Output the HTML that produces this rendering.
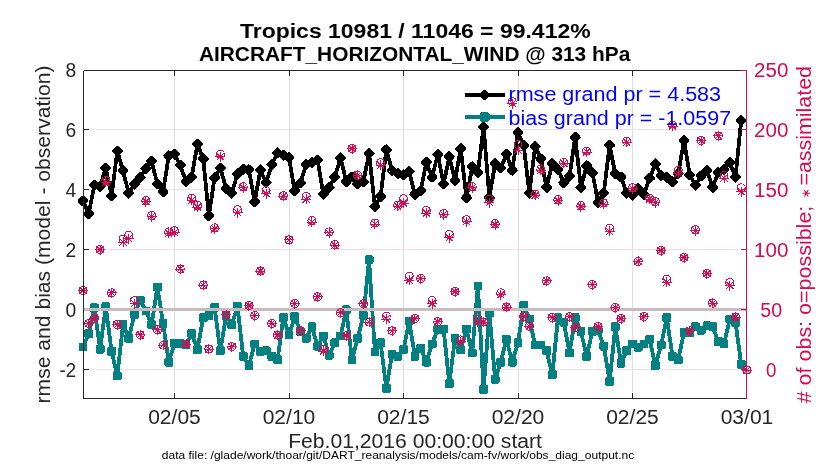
<!DOCTYPE html>
<html><head><meta charset="utf-8"><title>obs_diag</title>
<style>html,body{margin:0;padding:0;background:#fff}svg{display:block;will-change:transform}text{font-family:"Liberation Sans",sans-serif}</style></head><body>
<svg width="830" height="470" viewBox="0 0 830 470">
<rect width="830" height="470" fill="#fff"/>
<g shape-rendering="crispEdges" stroke-width="1">
<line x1="174.5" x2="174.5" y1="70.0" y2="398.0" stroke="#dedede"/>
<line x1="289.5" x2="289.5" y1="70.0" y2="398.0" stroke="#dedede"/>
<line x1="403.5" x2="403.5" y1="70.0" y2="398.0" stroke="#dedede"/>
<line x1="518.5" x2="518.5" y1="70.0" y2="398.0" stroke="#dedede"/>
<line x1="632.5" x2="632.5" y1="70.0" y2="398.0" stroke="#dedede"/>
<line x1="83.0" x2="746.0" y1="129.5" y2="129.5" stroke="#f9dae5"/>
<line x1="83.0" x2="746.0" y1="189.5" y2="189.5" stroke="#f9dae5"/>
<line x1="83.0" x2="746.0" y1="249.5" y2="249.5" stroke="#f9dae5"/>
<line x1="83.0" x2="746.0" y1="369.5" y2="369.5" stroke="#f9dae5"/>
</g>
<g shape-rendering="crispEdges">
<polyline points="83,201 88.7,213.6 94.4,185.1 100.1,186.3 105.8,168 111.6,195.8 117.3,151.2 123,170.8 128.7,193.1 134.5,184 140.2,177.6 145.9,168.5 151.6,161.2 157.4,184 163.1,191.9 168.8,155.8 174.5,154.2 180.3,165.2 186,181.7 191.7,177.1 197.4,144.1 203.2,158.9 208.9,215.8 214.6,177.6 220.3,168 226.1,188.5 231.8,193.1 237.5,173.7 243.2,169.2 248.9,169.9 254.7,201.7 260.4,169.9 266.1,182.8 271.8,164.6 277.6,152.8 283.3,155.2 289,157.8 294.7,190.8 300.5,182.8 306.2,164.6 311.9,162.4 317.6,160.1 323.4,194.2 329.1,187.4 334.8,177.1 340.5,157.8 346.3,181.7 352,177.1 357.7,184 363.4,181.7 369.1,153.3 374.9,206.7 380.6,196.5 386.3,149.8 392,170.3 397.8,173.7 403.5,174.9 409.2,171.5 414.9,194.2 420.7,190.8 426.4,162.4 432.1,177.1 437.8,154.4 443.6,184 449.3,156.7 455,180.6 460.7,148.7 466.5,197.6 472.2,166.9 477.9,172.6 483.6,127.1 489.4,197.6 495.1,163.5 500.8,168 506.5,154.4 512.2,170.3 518,132.8 523.7,145.3 529.4,193.1 535.1,146.4 540.9,158.9 546.6,187.4 552.3,163.5 558,169.2 563.8,182.8 569.5,176 575.2,137.3 580.9,187.4 586.7,165.8 592.4,172.6 598.1,202.2 603.8,193.1 609.6,145.3 615.3,173.7 621,177.1 626.7,193.1 632.5,195.4 638.2,188.5 643.9,194.2 649.6,178.3 655.4,163.9 661.1,175.3 666.8,177.1 672.5,181.7 678.2,173.7 684,140.7 689.7,174.9 695.4,185.1 701.1,176 706.9,170.3 712.6,187.4 718.3,172.6 724,169.2 729.8,162.4 735.5,177.1 741.2,120.7" fill="none" stroke="#000" stroke-width="3.8" stroke-linejoin="round"/>
<path d="M79.2,201 l3.7,-3.7 l3.7,3.7 l-3.7,3.7 z M85,213.6 l3.7,-3.7 l3.7,3.7 l-3.7,3.7 z M90.7,185.1 l3.7,-3.7 l3.7,3.7 l-3.7,3.7 z M96.4,186.3 l3.7,-3.7 l3.7,3.7 l-3.7,3.7 z M102.1,168 l3.7,-3.7 l3.7,3.7 l-3.7,3.7 z M107.9,195.8 l3.7,-3.7 l3.7,3.7 l-3.7,3.7 z M113.6,151.2 l3.7,-3.7 l3.7,3.7 l-3.7,3.7 z M119.3,170.8 l3.7,-3.7 l3.7,3.7 l-3.7,3.7 z M125,193.1 l3.7,-3.7 l3.7,3.7 l-3.7,3.7 z M130.8,184 l3.7,-3.7 l3.7,3.7 l-3.7,3.7 z M136.5,177.6 l3.7,-3.7 l3.7,3.7 l-3.7,3.7 z M142.2,168.5 l3.7,-3.7 l3.7,3.7 l-3.7,3.7 z M147.9,161.2 l3.7,-3.7 l3.7,3.7 l-3.7,3.7 z M153.7,184 l3.7,-3.7 l3.7,3.7 l-3.7,3.7 z M159.4,191.9 l3.7,-3.7 l3.7,3.7 l-3.7,3.7 z M165.1,155.8 l3.7,-3.7 l3.7,3.7 l-3.7,3.7 z M170.8,154.2 l3.7,-3.7 l3.7,3.7 l-3.7,3.7 z M176.6,165.2 l3.7,-3.7 l3.7,3.7 l-3.7,3.7 z M182.3,181.7 l3.7,-3.7 l3.7,3.7 l-3.7,3.7 z M188,177.1 l3.7,-3.7 l3.7,3.7 l-3.7,3.7 z M193.7,144.1 l3.7,-3.7 l3.7,3.7 l-3.7,3.7 z M199.5,158.9 l3.7,-3.7 l3.7,3.7 l-3.7,3.7 z M205.2,215.8 l3.7,-3.7 l3.7,3.7 l-3.7,3.7 z M210.9,177.6 l3.7,-3.7 l3.7,3.7 l-3.7,3.7 z M216.6,168 l3.7,-3.7 l3.7,3.7 l-3.7,3.7 z M222.4,188.5 l3.7,-3.7 l3.7,3.7 l-3.7,3.7 z M228.1,193.1 l3.7,-3.7 l3.7,3.7 l-3.7,3.7 z M233.8,173.7 l3.7,-3.7 l3.7,3.7 l-3.7,3.7 z M239.5,169.2 l3.7,-3.7 l3.7,3.7 l-3.7,3.7 z M245.2,169.9 l3.7,-3.7 l3.7,3.7 l-3.7,3.7 z M251,201.7 l3.7,-3.7 l3.7,3.7 l-3.7,3.7 z M256.7,169.9 l3.7,-3.7 l3.7,3.7 l-3.7,3.7 z M262.4,182.8 l3.7,-3.7 l3.7,3.7 l-3.7,3.7 z M268.1,164.6 l3.7,-3.7 l3.7,3.7 l-3.7,3.7 z M273.9,152.8 l3.7,-3.7 l3.7,3.7 l-3.7,3.7 z M279.6,155.2 l3.7,-3.7 l3.7,3.7 l-3.7,3.7 z M285.3,157.8 l3.7,-3.7 l3.7,3.7 l-3.7,3.7 z M291,190.8 l3.7,-3.7 l3.7,3.7 l-3.7,3.7 z M296.8,182.8 l3.7,-3.7 l3.7,3.7 l-3.7,3.7 z M302.5,164.6 l3.7,-3.7 l3.7,3.7 l-3.7,3.7 z M308.2,162.4 l3.7,-3.7 l3.7,3.7 l-3.7,3.7 z M313.9,160.1 l3.7,-3.7 l3.7,3.7 l-3.7,3.7 z M319.7,194.2 l3.7,-3.7 l3.7,3.7 l-3.7,3.7 z M325.4,187.4 l3.7,-3.7 l3.7,3.7 l-3.7,3.7 z M331.1,177.1 l3.7,-3.7 l3.7,3.7 l-3.7,3.7 z M336.8,157.8 l3.7,-3.7 l3.7,3.7 l-3.7,3.7 z M342.6,181.7 l3.7,-3.7 l3.7,3.7 l-3.7,3.7 z M348.3,177.1 l3.7,-3.7 l3.7,3.7 l-3.7,3.7 z M354,184 l3.7,-3.7 l3.7,3.7 l-3.7,3.7 z M359.7,181.7 l3.7,-3.7 l3.7,3.7 l-3.7,3.7 z M365.4,153.3 l3.7,-3.7 l3.7,3.7 l-3.7,3.7 z M371.2,206.7 l3.7,-3.7 l3.7,3.7 l-3.7,3.7 z M376.9,196.5 l3.7,-3.7 l3.7,3.7 l-3.7,3.7 z M382.6,149.8 l3.7,-3.7 l3.7,3.7 l-3.7,3.7 z M388.3,170.3 l3.7,-3.7 l3.7,3.7 l-3.7,3.7 z M394.1,173.7 l3.7,-3.7 l3.7,3.7 l-3.7,3.7 z M399.8,174.9 l3.7,-3.7 l3.7,3.7 l-3.7,3.7 z M405.5,171.5 l3.7,-3.7 l3.7,3.7 l-3.7,3.7 z M411.2,194.2 l3.7,-3.7 l3.7,3.7 l-3.7,3.7 z M417,190.8 l3.7,-3.7 l3.7,3.7 l-3.7,3.7 z M422.7,162.4 l3.7,-3.7 l3.7,3.7 l-3.7,3.7 z M428.4,177.1 l3.7,-3.7 l3.7,3.7 l-3.7,3.7 z M434.1,154.4 l3.7,-3.7 l3.7,3.7 l-3.7,3.7 z M439.9,184 l3.7,-3.7 l3.7,3.7 l-3.7,3.7 z M445.6,156.7 l3.7,-3.7 l3.7,3.7 l-3.7,3.7 z M451.3,180.6 l3.7,-3.7 l3.7,3.7 l-3.7,3.7 z M457,148.7 l3.7,-3.7 l3.7,3.7 l-3.7,3.7 z M462.8,197.6 l3.7,-3.7 l3.7,3.7 l-3.7,3.7 z M468.5,166.9 l3.7,-3.7 l3.7,3.7 l-3.7,3.7 z M474.2,172.6 l3.7,-3.7 l3.7,3.7 l-3.7,3.7 z M479.9,127.1 l3.7,-3.7 l3.7,3.7 l-3.7,3.7 z M485.7,197.6 l3.7,-3.7 l3.7,3.7 l-3.7,3.7 z M491.4,163.5 l3.7,-3.7 l3.7,3.7 l-3.7,3.7 z M497.1,168 l3.7,-3.7 l3.7,3.7 l-3.7,3.7 z M502.8,154.4 l3.7,-3.7 l3.7,3.7 l-3.7,3.7 z M508.6,170.3 l3.7,-3.7 l3.7,3.7 l-3.7,3.7 z M514.3,132.8 l3.7,-3.7 l3.7,3.7 l-3.7,3.7 z M520,145.3 l3.7,-3.7 l3.7,3.7 l-3.7,3.7 z M525.7,193.1 l3.7,-3.7 l3.7,3.7 l-3.7,3.7 z M531.4,146.4 l3.7,-3.7 l3.7,3.7 l-3.7,3.7 z M537.2,158.9 l3.7,-3.7 l3.7,3.7 l-3.7,3.7 z M542.9,187.4 l3.7,-3.7 l3.7,3.7 l-3.7,3.7 z M548.6,163.5 l3.7,-3.7 l3.7,3.7 l-3.7,3.7 z M554.3,169.2 l3.7,-3.7 l3.7,3.7 l-3.7,3.7 z M560.1,182.8 l3.7,-3.7 l3.7,3.7 l-3.7,3.7 z M565.8,176 l3.7,-3.7 l3.7,3.7 l-3.7,3.7 z M571.5,137.3 l3.7,-3.7 l3.7,3.7 l-3.7,3.7 z M577.2,187.4 l3.7,-3.7 l3.7,3.7 l-3.7,3.7 z M583,165.8 l3.7,-3.7 l3.7,3.7 l-3.7,3.7 z M588.7,172.6 l3.7,-3.7 l3.7,3.7 l-3.7,3.7 z M594.4,202.2 l3.7,-3.7 l3.7,3.7 l-3.7,3.7 z M600.1,193.1 l3.7,-3.7 l3.7,3.7 l-3.7,3.7 z M605.9,145.3 l3.7,-3.7 l3.7,3.7 l-3.7,3.7 z M611.6,173.7 l3.7,-3.7 l3.7,3.7 l-3.7,3.7 z M617.3,177.1 l3.7,-3.7 l3.7,3.7 l-3.7,3.7 z M623,193.1 l3.7,-3.7 l3.7,3.7 l-3.7,3.7 z M628.8,195.4 l3.7,-3.7 l3.7,3.7 l-3.7,3.7 z M634.5,188.5 l3.7,-3.7 l3.7,3.7 l-3.7,3.7 z M640.2,194.2 l3.7,-3.7 l3.7,3.7 l-3.7,3.7 z M645.9,178.3 l3.7,-3.7 l3.7,3.7 l-3.7,3.7 z M651.6,163.9 l3.7,-3.7 l3.7,3.7 l-3.7,3.7 z M657.4,175.3 l3.7,-3.7 l3.7,3.7 l-3.7,3.7 z M663.1,177.1 l3.7,-3.7 l3.7,3.7 l-3.7,3.7 z M668.8,181.7 l3.7,-3.7 l3.7,3.7 l-3.7,3.7 z M674.5,173.7 l3.7,-3.7 l3.7,3.7 l-3.7,3.7 z M680.3,140.7 l3.7,-3.7 l3.7,3.7 l-3.7,3.7 z M686,174.9 l3.7,-3.7 l3.7,3.7 l-3.7,3.7 z M691.7,185.1 l3.7,-3.7 l3.7,3.7 l-3.7,3.7 z M697.4,176 l3.7,-3.7 l3.7,3.7 l-3.7,3.7 z M703.2,170.3 l3.7,-3.7 l3.7,3.7 l-3.7,3.7 z M708.9,187.4 l3.7,-3.7 l3.7,3.7 l-3.7,3.7 z M714.6,172.6 l3.7,-3.7 l3.7,3.7 l-3.7,3.7 z M720.3,169.2 l3.7,-3.7 l3.7,3.7 l-3.7,3.7 z M726.1,162.4 l3.7,-3.7 l3.7,3.7 l-3.7,3.7 z M731.8,177.1 l3.7,-3.7 l3.7,3.7 l-3.7,3.7 z M737.5,120.7 l3.7,-3.7 l3.7,3.7 l-3.7,3.7 z" fill="#000" stroke="#000" stroke-width="3.4" stroke-linejoin="round"/>
<polyline points="83,346.9 88.7,333.7 94.4,307.8 100.1,349.1 105.8,306.6 111.6,351.4 117.3,375.8 123,324.6 128.7,338.2 134.5,314.3 140.2,300 145.9,310.9 151.6,324.6 157.4,287 163.1,323.4 168.8,362.1 174.5,343.2 180.3,343.2 186,344.6 191.7,333.7 197.4,349.6 203.2,317.7 208.9,315.5 214.6,307.5 220.3,350.7 226.1,315.5 231.8,324.6 237.5,306.4 243.2,356.4 248.9,365.5 254.7,343.9 260.4,351.4 266.1,350.7 271.8,356.4 277.6,359.8 283.3,317.7 289,334.8 294.7,316.6 300.5,331.4 306.2,338.2 311.9,326.8 317.6,346.2 323.4,335.9 329.1,355.3 334.8,342.8 340.5,335.9 346.3,309.8 352,359.8 357.7,338.2 363.4,315.5 369.1,259.7 374.9,351.9 380.6,342.8 386.3,388.3 392,354.2 397.8,356.4 403.5,349.6 409.2,321.2 414.9,356.4 420.7,348.5 426.4,362.1 432.1,343.9 437.8,329.1 443.6,329.1 449.3,383.7 455,338.2 460.7,349.6 466.5,329.1 472.2,353 477.9,285.9 483.6,389.4 489.4,313.2 495.1,379.2 500.8,362.1 506.5,339.4 512.2,362.1 518,342.8 523.7,305.2 529.4,318.9 535.1,345 540.9,345 546.6,350.7 552.3,374.6 558,317.7 563.8,322.3 569.5,353 575.2,317.7 580.9,331.4 586.7,356.4 592.4,331.4 598.1,330.3 603.8,346.2 609.6,381.5 615.3,326.8 621,363.3 626.7,350.7 632.5,343.9 638.2,347.3 643.9,343.9 649.6,339.4 655.4,365.5 661.1,345 666.8,317.7 672.5,356.4 678.2,359.8 684,332.5 689.7,332.5 695.4,326.8 701.1,330.3 706.9,325.7 712.6,326.8 718.3,341.6 724,343.9 729.8,318.9 735.5,322.3 741.2,364.4" fill="none" stroke="#008080" stroke-width="3.8" stroke-linejoin="round"/>
<path d="M80.2,344.2 h5.4 v5.4 h-5.4 z M86,331 h5.4 v5.4 h-5.4 z M91.7,305.1 h5.4 v5.4 h-5.4 z M97.4,346.4 h5.4 v5.4 h-5.4 z M103.1,303.9 h5.4 v5.4 h-5.4 z M108.9,348.7 h5.4 v5.4 h-5.4 z M114.6,373.1 h5.4 v5.4 h-5.4 z M120.3,321.9 h5.4 v5.4 h-5.4 z M126,335.5 h5.4 v5.4 h-5.4 z M131.8,311.6 h5.4 v5.4 h-5.4 z M137.5,297.3 h5.4 v5.4 h-5.4 z M143.2,308.2 h5.4 v5.4 h-5.4 z M148.9,321.9 h5.4 v5.4 h-5.4 z M154.7,284.3 h5.4 v5.4 h-5.4 z M160.4,320.7 h5.4 v5.4 h-5.4 z M166.1,359.4 h5.4 v5.4 h-5.4 z M171.8,340.5 h5.4 v5.4 h-5.4 z M177.6,340.5 h5.4 v5.4 h-5.4 z M183.3,341.9 h5.4 v5.4 h-5.4 z M189,331 h5.4 v5.4 h-5.4 z M194.7,346.9 h5.4 v5.4 h-5.4 z M200.5,315 h5.4 v5.4 h-5.4 z M206.2,312.8 h5.4 v5.4 h-5.4 z M211.9,304.8 h5.4 v5.4 h-5.4 z M217.6,348 h5.4 v5.4 h-5.4 z M223.4,312.8 h5.4 v5.4 h-5.4 z M229.1,321.9 h5.4 v5.4 h-5.4 z M234.8,303.7 h5.4 v5.4 h-5.4 z M240.5,353.7 h5.4 v5.4 h-5.4 z M246.2,362.8 h5.4 v5.4 h-5.4 z M252,341.2 h5.4 v5.4 h-5.4 z M257.7,348.7 h5.4 v5.4 h-5.4 z M263.4,348 h5.4 v5.4 h-5.4 z M269.1,353.7 h5.4 v5.4 h-5.4 z M274.9,357.1 h5.4 v5.4 h-5.4 z M280.6,315 h5.4 v5.4 h-5.4 z M286.3,332.1 h5.4 v5.4 h-5.4 z M292,313.9 h5.4 v5.4 h-5.4 z M297.8,328.7 h5.4 v5.4 h-5.4 z M303.5,335.5 h5.4 v5.4 h-5.4 z M309.2,324.1 h5.4 v5.4 h-5.4 z M314.9,343.5 h5.4 v5.4 h-5.4 z M320.7,333.2 h5.4 v5.4 h-5.4 z M326.4,352.6 h5.4 v5.4 h-5.4 z M332.1,340.1 h5.4 v5.4 h-5.4 z M337.8,333.2 h5.4 v5.4 h-5.4 z M343.6,307.1 h5.4 v5.4 h-5.4 z M349.3,357.1 h5.4 v5.4 h-5.4 z M355,335.5 h5.4 v5.4 h-5.4 z M360.7,312.8 h5.4 v5.4 h-5.4 z M366.4,257 h5.4 v5.4 h-5.4 z M372.2,349.2 h5.4 v5.4 h-5.4 z M377.9,340.1 h5.4 v5.4 h-5.4 z M383.6,385.6 h5.4 v5.4 h-5.4 z M389.3,351.5 h5.4 v5.4 h-5.4 z M395.1,353.7 h5.4 v5.4 h-5.4 z M400.8,346.9 h5.4 v5.4 h-5.4 z M406.5,318.5 h5.4 v5.4 h-5.4 z M412.2,353.7 h5.4 v5.4 h-5.4 z M418,345.8 h5.4 v5.4 h-5.4 z M423.7,359.4 h5.4 v5.4 h-5.4 z M429.4,341.2 h5.4 v5.4 h-5.4 z M435.1,326.4 h5.4 v5.4 h-5.4 z M440.9,326.4 h5.4 v5.4 h-5.4 z M446.6,381 h5.4 v5.4 h-5.4 z M452.3,335.5 h5.4 v5.4 h-5.4 z M458,346.9 h5.4 v5.4 h-5.4 z M463.8,326.4 h5.4 v5.4 h-5.4 z M469.5,350.3 h5.4 v5.4 h-5.4 z M475.2,283.2 h5.4 v5.4 h-5.4 z M480.9,386.7 h5.4 v5.4 h-5.4 z M486.7,310.5 h5.4 v5.4 h-5.4 z M492.4,376.5 h5.4 v5.4 h-5.4 z M498.1,359.4 h5.4 v5.4 h-5.4 z M503.8,336.7 h5.4 v5.4 h-5.4 z M509.6,359.4 h5.4 v5.4 h-5.4 z M515.3,340.1 h5.4 v5.4 h-5.4 z M521,302.5 h5.4 v5.4 h-5.4 z M526.7,316.2 h5.4 v5.4 h-5.4 z M532.4,342.3 h5.4 v5.4 h-5.4 z M538.2,342.3 h5.4 v5.4 h-5.4 z M543.9,348 h5.4 v5.4 h-5.4 z M549.6,371.9 h5.4 v5.4 h-5.4 z M555.3,315 h5.4 v5.4 h-5.4 z M561.1,319.6 h5.4 v5.4 h-5.4 z M566.8,350.3 h5.4 v5.4 h-5.4 z M572.5,315 h5.4 v5.4 h-5.4 z M578.2,328.7 h5.4 v5.4 h-5.4 z M584,353.7 h5.4 v5.4 h-5.4 z M589.7,328.7 h5.4 v5.4 h-5.4 z M595.4,327.6 h5.4 v5.4 h-5.4 z M601.1,343.5 h5.4 v5.4 h-5.4 z M606.9,378.8 h5.4 v5.4 h-5.4 z M612.6,324.1 h5.4 v5.4 h-5.4 z M618.3,360.6 h5.4 v5.4 h-5.4 z M624,348 h5.4 v5.4 h-5.4 z M629.8,341.2 h5.4 v5.4 h-5.4 z M635.5,344.6 h5.4 v5.4 h-5.4 z M641.2,341.2 h5.4 v5.4 h-5.4 z M646.9,336.7 h5.4 v5.4 h-5.4 z M652.6,362.8 h5.4 v5.4 h-5.4 z M658.4,342.3 h5.4 v5.4 h-5.4 z M664.1,315 h5.4 v5.4 h-5.4 z M669.8,353.7 h5.4 v5.4 h-5.4 z M675.5,357.1 h5.4 v5.4 h-5.4 z M681.3,329.8 h5.4 v5.4 h-5.4 z M687,329.8 h5.4 v5.4 h-5.4 z M692.7,324.1 h5.4 v5.4 h-5.4 z M698.4,327.6 h5.4 v5.4 h-5.4 z M704.2,323 h5.4 v5.4 h-5.4 z M709.9,324.1 h5.4 v5.4 h-5.4 z M715.6,338.9 h5.4 v5.4 h-5.4 z M721.3,341.2 h5.4 v5.4 h-5.4 z M727.1,316.2 h5.4 v5.4 h-5.4 z M732.8,319.6 h5.4 v5.4 h-5.4 z M738.5,361.7 h5.4 v5.4 h-5.4 z" fill="#008080" stroke="#008080" stroke-width="3.4" stroke-linejoin="round"/>
<line x1="83.0" x2="746.0" y1="309.5" y2="309.5" stroke="#c8babd" stroke-width="3"/>
</g>
<g stroke="#D70A53" stroke-width="1" fill="none" shape-rendering="crispEdges">
<circle cx="83" cy="290.5" r="4.0"/><circle cx="88.7" cy="323.5" r="4.0"/><circle cx="94.4" cy="318.3" r="4.0"/><circle cx="100.1" cy="249.6" r="4.0"/><circle cx="105.8" cy="180.3" r="4.0"/><circle cx="111.6" cy="292.8" r="4.0"/><circle cx="117.3" cy="324.6" r="4.0"/><circle cx="123" cy="239.1" r="4.0"/><circle cx="128.7" cy="235.3" r="4.0"/><circle cx="134.5" cy="300.5" r="4.0"/><circle cx="140.2" cy="334.9" r="4.0"/><circle cx="145.9" cy="200.5" r="4.0"/><circle cx="151.6" cy="215.5" r="4.0"/><circle cx="157.4" cy="329.7" r="4.0"/><circle cx="163.1" cy="345.1" r="4.0"/><circle cx="168.8" cy="231.9" r="4.0"/><circle cx="174.5" cy="230.7" r="4.0"/><circle cx="180.3" cy="269" r="4.0"/><circle cx="186" cy="344" r="4.0"/><circle cx="191.7" cy="198.3" r="4.0"/><circle cx="197.4" cy="205.3" r="4.0"/><circle cx="203.2" cy="285" r="4.0"/><circle cx="208.9" cy="349" r="4.0"/><circle cx="214.6" cy="227.8" r="4.0"/><circle cx="220.3" cy="154.1" r="4.0"/><circle cx="226.1" cy="314.9" r="4.0"/><circle cx="231.8" cy="346.7" r="4.0"/><circle cx="237.5" cy="209.6" r="4.0"/><circle cx="243.2" cy="186.7" r="4.0"/><circle cx="248.9" cy="305.5" r="4.0"/><circle cx="254.7" cy="315.5" r="4.0"/><circle cx="260.4" cy="271" r="4.0"/><circle cx="266.1" cy="190.7" r="4.0"/><circle cx="271.8" cy="323.5" r="4.0"/><circle cx="277.6" cy="334.9" r="4.0"/><circle cx="283.3" cy="195.7" r="4.0"/><circle cx="289" cy="239.9" r="4.0"/><circle cx="294.7" cy="303.5" r="4.0"/><circle cx="300.5" cy="330.8" r="4.0"/><circle cx="306.2" cy="196.4" r="4.0"/><circle cx="311.9" cy="220.7" r="4.0"/><circle cx="317.6" cy="296.7" r="4.0"/><circle cx="323.4" cy="349" r="4.0"/><circle cx="329.1" cy="231.9" r="4.0"/><circle cx="334.8" cy="244.4" r="4.0"/><circle cx="340.5" cy="312.6" r="4.0"/><circle cx="346.3" cy="335.8" r="4.0"/><circle cx="352" cy="148.7" r="4.0"/><circle cx="357.7" cy="175.3" r="4.0"/><circle cx="363.4" cy="303.8" r="4.0"/><circle cx="369.1" cy="322.1" r="4.0"/><circle cx="374.9" cy="223" r="4.0"/><circle cx="380.6" cy="162.7" r="4.0"/><circle cx="386.3" cy="316" r="4.0"/><circle cx="392" cy="330.8" r="4.0"/><circle cx="397.8" cy="205.2" r="4.0"/><circle cx="403.5" cy="198.7" r="4.0"/><circle cx="409.2" cy="276.2" r="4.0"/><circle cx="414.9" cy="318.7" r="4.0"/><circle cx="420.7" cy="278.5" r="4.0"/><circle cx="426.4" cy="210.5" r="4.0"/><circle cx="432.1" cy="300.5" r="4.0"/><circle cx="437.8" cy="321.7" r="4.0"/><circle cx="443.6" cy="213.5" r="4.0"/><circle cx="449.3" cy="234.6" r="4.0"/><circle cx="455" cy="291.7" r="4.0"/><circle cx="460.7" cy="339.9" r="4.0"/><circle cx="466.5" cy="219.5" r="4.0"/><circle cx="472.2" cy="186.7" r="4.0"/><circle cx="477.9" cy="319" r="4.0"/><circle cx="483.6" cy="322.1" r="4.0"/><circle cx="489.4" cy="199.5" r="4.0"/><circle cx="495.1" cy="223.5" r="4.0"/><circle cx="500.8" cy="292.8" r="4.0"/><circle cx="506.5" cy="307" r="4.0"/><circle cx="512.2" cy="101.5" r="4.0"/><circle cx="518" cy="144.6" r="4.0"/><circle cx="523.7" cy="316.7" r="4.0"/><circle cx="529.4" cy="326.2" r="4.0"/><circle cx="535.1" cy="194.2" r="4.0"/><circle cx="540.9" cy="169.2" r="4.0"/><circle cx="546.6" cy="280.8" r="4.0"/><circle cx="552.3" cy="317.6" r="4.0"/><circle cx="558" cy="199.5" r="4.0"/><circle cx="563.8" cy="162.3" r="4.0"/><circle cx="569.5" cy="316.7" r="4.0"/><circle cx="575.2" cy="327.4" r="4.0"/><circle cx="580.9" cy="205.6" r="4.0"/><circle cx="586.7" cy="151" r="4.0"/><circle cx="592.4" cy="284.5" r="4.0"/><circle cx="598.1" cy="326.7" r="4.0"/><circle cx="603.8" cy="203" r="4.0"/><circle cx="609.6" cy="228.4" r="4.0"/><circle cx="615.3" cy="307.5" r="4.0"/><circle cx="621" cy="318.7" r="4.0"/><circle cx="626.7" cy="141.2" r="4.0"/><circle cx="632.5" cy="187.8" r="4.0"/><circle cx="638.2" cy="261.4" r="4.0"/><circle cx="643.9" cy="316.7" r="4.0"/><circle cx="649.6" cy="198.1" r="4.0"/><circle cx="655.4" cy="201.5" r="4.0"/><circle cx="661.1" cy="250.5" r="4.0"/><circle cx="666.8" cy="279.2" r="4.0"/><circle cx="672.5" cy="125.2" r="4.0"/><circle cx="678.2" cy="170.3" r="4.0"/><circle cx="684" cy="257.6" r="4.0"/><circle cx="689.7" cy="330.8" r="4.0"/><circle cx="695.4" cy="229.6" r="4.0"/><circle cx="701.1" cy="140.7" r="4.0"/><circle cx="706.9" cy="273.5" r="4.0"/><circle cx="712.6" cy="303.2" r="4.0"/><circle cx="718.3" cy="135.9" r="4.0"/><circle cx="724" cy="175.3" r="4.0"/><circle cx="729.8" cy="282.5" r="4.0"/><circle cx="735.5" cy="317.1" r="4.0"/><circle cx="741.2" cy="187.8" r="4.0"/><circle cx="746.9" cy="370" r="4.0"/>
<path d="M78,290.5 h10 M83,285.5 v10 M79.5,287 l7,7 M79.5,294 l7,-7 M83.7,323.5 h10 M88.7,318.5 v10 M85.2,320 l7,7 M85.2,327 l7,-7 M89.4,318.3 h10 M94.4,313.3 v10 M90.9,314.8 l7,7 M90.9,321.8 l7,-7 M95.1,249.6 h10 M100.1,244.6 v10 M96.6,246.1 l7,7 M96.6,253.1 l7,-7 M100.8,182.3 h10 M105.8,177.3 v10 M102.3,178.8 l7,7 M102.3,185.8 l7,-7 M106.6,292.8 h10 M111.6,287.8 v10 M108.1,289.3 l7,7 M108.1,296.3 l7,-7 M112.3,324.6 h10 M117.3,319.6 v10 M113.8,321.1 l7,7 M113.8,328.1 l7,-7 M118,242.1 h10 M123,237.1 v10 M119.5,238.6 l7,7 M119.5,245.6 l7,-7 M123.7,238.5 h10 M128.7,233.5 v10 M125.2,235 l7,7 M125.2,242 l7,-7 M129.5,303.5 h10 M134.5,298.5 v10 M131,300 l7,7 M131,307 l7,-7 M135.2,334.9 h10 M140.2,329.9 v10 M136.7,331.4 l7,7 M136.7,338.4 l7,-7 M140.9,201.5 h10 M145.9,196.5 v10 M142.4,198 l7,7 M142.4,205 l7,-7 M146.6,216.5 h10 M151.6,211.5 v10 M148.1,213 l7,7 M148.1,220 l7,-7 M152.4,329.7 h10 M157.4,324.7 v10 M153.9,326.2 l7,7 M153.9,333.2 l7,-7 M158.1,345.1 h10 M163.1,340.1 v10 M159.6,341.6 l7,7 M159.6,348.6 l7,-7 M163.8,233.2 h10 M168.8,228.2 v10 M165.3,229.7 l7,7 M165.3,236.7 l7,-7 M169.5,232.3 h10 M174.5,227.3 v10 M171,228.8 l7,7 M171,235.8 l7,-7 M175.3,269 h10 M180.3,264 v10 M176.8,265.5 l7,7 M176.8,272.5 l7,-7 M181,344 h10 M186,339 v10 M182.5,340.5 l7,7 M182.5,347.5 l7,-7 M186.7,200.1 h10 M191.7,195.1 v10 M188.2,196.6 l7,7 M188.2,203.6 l7,-7 M192.4,207.1 h10 M197.4,202.1 v10 M193.9,203.6 l7,7 M193.9,210.6 l7,-7 M198.2,285 h10 M203.2,280 v10 M199.7,281.5 l7,7 M199.7,288.5 l7,-7 M203.9,349 h10 M208.9,344 v10 M205.4,345.5 l7,7 M205.4,352.5 l7,-7 M209.6,228.8 h10 M214.6,223.8 v10 M211.1,225.3 l7,7 M211.1,232.3 l7,-7 M215.3,156.6 h10 M220.3,151.6 v10 M216.8,153.1 l7,7 M216.8,160.1 l7,-7 M221.1,314.9 h10 M226.1,309.9 v10 M222.6,311.4 l7,7 M222.6,318.4 l7,-7 M226.8,346.7 h10 M231.8,341.7 v10 M228.3,343.2 l7,7 M228.3,350.2 l7,-7 M232.5,212.6 h10 M237.5,207.6 v10 M234,209.1 l7,7 M234,216.1 l7,-7 M238.2,187.7 h10 M243.2,182.7 v10 M239.7,184.2 l7,7 M239.7,191.2 l7,-7 M243.9,305.5 h10 M248.9,300.5 v10 M245.4,302 l7,7 M245.4,309 l7,-7 M249.7,315.5 h10 M254.7,310.5 v10 M251.2,312 l7,7 M251.2,319 l7,-7 M255.4,271 h10 M260.4,266 v10 M256.9,267.5 l7,7 M256.9,274.5 l7,-7 M261.1,193.7 h10 M266.1,188.7 v10 M262.6,190.2 l7,7 M262.6,197.2 l7,-7 M266.8,323.5 h10 M271.8,318.5 v10 M268.3,320 l7,7 M268.3,327 l7,-7 M272.6,334.9 h10 M277.6,329.9 v10 M274.1,331.4 l7,7 M274.1,338.4 l7,-7 M278.3,196.1 h10 M283.3,191.1 v10 M279.8,192.6 l7,7 M279.8,199.6 l7,-7 M284,239.9 h10 M289,234.9 v10 M285.5,236.4 l7,7 M285.5,243.4 l7,-7 M289.7,303.5 h10 M294.7,298.5 v10 M291.2,300 l7,7 M291.2,307 l7,-7 M295.5,330.8 h10 M300.5,325.8 v10 M297,327.3 l7,7 M297,334.3 l7,-7 M301.2,199.4 h10 M306.2,194.4 v10 M302.7,195.9 l7,7 M302.7,202.9 l7,-7 M306.9,222 h10 M311.9,217 v10 M308.4,218.5 l7,7 M308.4,225.5 l7,-7 M312.6,296.7 h10 M317.6,291.7 v10 M314.1,293.2 l7,7 M314.1,300.2 l7,-7 M318.4,351 h10 M323.4,346 v10 M319.9,347.5 l7,7 M319.9,354.5 l7,-7 M324.1,232.9 h10 M329.1,227.9 v10 M325.6,229.4 l7,7 M325.6,236.4 l7,-7 M329.8,245.4 h10 M334.8,240.4 v10 M331.3,241.9 l7,7 M331.3,248.9 l7,-7 M335.5,312.6 h10 M340.5,307.6 v10 M337,309.1 l7,7 M337,316.1 l7,-7 M341.3,335.8 h10 M346.3,330.8 v10 M342.8,332.3 l7,7 M342.8,339.3 l7,-7 M347,148.7 h10 M352,143.7 v10 M348.5,145.2 l7,7 M348.5,152.2 l7,-7 M352.7,175.3 h10 M357.7,170.3 v10 M354.2,171.8 l7,7 M354.2,178.8 l7,-7 M358.4,303.8 h10 M363.4,298.8 v10 M359.9,300.3 l7,7 M359.9,307.3 l7,-7 M364.1,322.1 h10 M369.1,317.1 v10 M365.6,318.6 l7,7 M365.6,325.6 l7,-7 M369.9,224 h10 M374.9,219 v10 M371.4,220.5 l7,7 M371.4,227.5 l7,-7 M375.6,165.2 h10 M380.6,160.2 v10 M377.1,161.7 l7,7 M377.1,168.7 l7,-7 M381.3,319 h10 M386.3,314 v10 M382.8,315.5 l7,7 M382.8,322.5 l7,-7 M387,330.8 h10 M392,325.8 v10 M388.5,327.3 l7,7 M388.5,334.3 l7,-7 M392.8,206.2 h10 M397.8,201.2 v10 M394.3,202.7 l7,7 M394.3,209.7 l7,-7 M398.5,203.2 h10 M403.5,198.2 v10 M400,199.7 l7,7 M400,206.7 l7,-7 M404.2,280.2 h10 M409.2,275.2 v10 M405.7,276.7 l7,7 M405.7,283.7 l7,-7 M409.9,318.7 h10 M414.9,313.7 v10 M411.4,315.2 l7,7 M411.4,322.2 l7,-7 M415.7,278.5 h10 M420.7,273.5 v10 M417.2,275 l7,7 M417.2,282 l7,-7 M421.4,213 h10 M426.4,208 v10 M422.9,209.5 l7,7 M422.9,216.5 l7,-7 M427.1,303.5 h10 M432.1,298.5 v10 M428.6,300 l7,7 M428.6,307 l7,-7 M432.8,321.7 h10 M437.8,316.7 v10 M434.3,318.2 l7,7 M434.3,325.2 l7,-7 M438.6,214.5 h10 M443.6,209.5 v10 M440.1,211 l7,7 M440.1,218 l7,-7 M444.3,237.6 h10 M449.3,232.6 v10 M445.8,234.1 l7,7 M445.8,241.1 l7,-7 M450,291.7 h10 M455,286.7 v10 M451.5,288.2 l7,7 M451.5,295.2 l7,-7 M455.7,341.9 h10 M460.7,336.9 v10 M457.2,338.4 l7,7 M457.2,345.4 l7,-7 M461.5,221.5 h10 M466.5,216.5 v10 M463,218 l7,7 M463,225 l7,-7 M467.2,187.7 h10 M472.2,182.7 v10 M468.7,184.2 l7,7 M468.7,191.2 l7,-7 M472.9,322 h10 M477.9,317 v10 M474.4,318.5 l7,7 M474.4,325.5 l7,-7 M478.6,322.1 h10 M483.6,317.1 v10 M480.1,318.6 l7,7 M480.1,325.6 l7,-7 M484.4,202.5 h10 M489.4,197.5 v10 M485.9,199 l7,7 M485.9,206 l7,-7 M490.1,224.5 h10 M495.1,219.5 v10 M491.6,221 l7,7 M491.6,228 l7,-7 M495.8,294.8 h10 M500.8,289.8 v10 M497.3,291.3 l7,7 M497.3,298.3 l7,-7 M501.5,307 h10 M506.5,302 v10 M503,303.5 l7,7 M503,310.5 l7,-7 M507.2,103.5 h10 M512.2,98.5 v10 M508.8,100 l7,7 M508.8,107 l7,-7 M513,150.1 h10 M518,145.1 v10 M514.5,146.6 l7,7 M514.5,153.6 l7,-7 M518.7,316.7 h10 M523.7,311.7 v10 M520.2,313.2 l7,7 M520.2,320.2 l7,-7 M524.4,326.2 h10 M529.4,321.2 v10 M525.9,322.7 l7,7 M525.9,329.7 l7,-7 M530.1,195.2 h10 M535.1,190.2 v10 M531.6,191.7 l7,7 M531.6,198.7 l7,-7 M535.9,170.2 h10 M540.9,165.2 v10 M537.4,166.7 l7,7 M537.4,173.7 l7,-7 M541.6,280.8 h10 M546.6,275.8 v10 M543.1,277.3 l7,7 M543.1,284.3 l7,-7 M547.3,317.6 h10 M552.3,312.6 v10 M548.8,314.1 l7,7 M548.8,321.1 l7,-7 M553,200.5 h10 M558,195.5 v10 M554.5,197 l7,7 M554.5,204 l7,-7 M558.8,163.3 h10 M563.8,158.3 v10 M560.3,159.8 l7,7 M560.3,166.8 l7,-7 M564.5,316.7 h10 M569.5,311.7 v10 M566,313.2 l7,7 M566,320.2 l7,-7 M570.2,327.4 h10 M575.2,322.4 v10 M571.7,323.9 l7,7 M571.7,330.9 l7,-7 M575.9,206.6 h10 M580.9,201.6 v10 M577.4,203.1 l7,7 M577.4,210.1 l7,-7 M581.7,152 h10 M586.7,147 v10 M583.2,148.5 l7,7 M583.2,155.5 l7,-7 M587.4,284.5 h10 M592.4,279.5 v10 M588.9,281 l7,7 M588.9,288 l7,-7 M593.1,326.7 h10 M598.1,321.7 v10 M594.6,323.2 l7,7 M594.6,330.2 l7,-7 M598.8,204 h10 M603.8,199 v10 M600.3,200.5 l7,7 M600.3,207.5 l7,-7 M604.6,231.4 h10 M609.6,226.4 v10 M606.1,227.9 l7,7 M606.1,234.9 l7,-7 M610.3,307.5 h10 M615.3,302.5 v10 M611.8,304 l7,7 M611.8,311 l7,-7 M616,318.7 h10 M621,313.7 v10 M617.5,315.2 l7,7 M617.5,322.2 l7,-7 M621.7,142.2 h10 M626.7,137.2 v10 M623.2,138.7 l7,7 M623.2,145.7 l7,-7 M627.5,188.8 h10 M632.5,183.8 v10 M629,185.3 l7,7 M629,192.3 l7,-7 M633.2,261.4 h10 M638.2,256.4 v10 M634.7,257.9 l7,7 M634.7,264.9 l7,-7 M638.9,316.7 h10 M643.9,311.7 v10 M640.4,313.2 l7,7 M640.4,320.2 l7,-7 M644.6,199.1 h10 M649.6,194.1 v10 M646.1,195.6 l7,7 M646.1,202.6 l7,-7 M650.4,202.5 h10 M655.4,197.5 v10 M651.9,199 l7,7 M651.9,206 l7,-7 M656.1,250.5 h10 M661.1,245.5 v10 M657.6,247 l7,7 M657.6,254 l7,-7 M661.8,282.2 h10 M666.8,277.2 v10 M663.3,278.7 l7,7 M663.3,285.7 l7,-7 M667.5,126.2 h10 M672.5,121.2 v10 M669,122.7 l7,7 M669,129.7 l7,-7 M673.2,173.3 h10 M678.2,168.3 v10 M674.7,169.8 l7,7 M674.7,176.8 l7,-7 M679,257.6 h10 M684,252.6 v10 M680.5,254.1 l7,7 M680.5,261.1 l7,-7 M684.7,330.8 h10 M689.7,325.8 v10 M686.2,327.3 l7,7 M686.2,334.3 l7,-7 M690.4,230.6 h10 M695.4,225.6 v10 M691.9,227.1 l7,7 M691.9,234.1 l7,-7 M696.1,140.7 h10 M701.1,135.7 v10 M697.6,137.2 l7,7 M697.6,144.2 l7,-7 M701.9,273.5 h10 M706.9,268.5 v10 M703.4,270 l7,7 M703.4,277 l7,-7 M707.6,303.2 h10 M712.6,298.2 v10 M709.1,299.7 l7,7 M709.1,306.7 l7,-7 M713.3,135.9 h10 M718.3,130.9 v10 M714.8,132.4 l7,7 M714.8,139.4 l7,-7 M719,178.3 h10 M724,173.3 v10 M720.5,174.8 l7,7 M720.5,181.8 l7,-7 M724.8,285.5 h10 M729.8,280.5 v10 M726.3,282 l7,7 M726.3,289 l7,-7 M730.5,317.1 h10 M735.5,312.1 v10 M732,313.6 l7,7 M732,320.6 l7,-7 M736.2,191.8 h10 M741.2,186.8 v10 M737.7,188.3 l7,7 M737.7,195.3 l7,-7 M741.9,370 h10 M746.9,365 v10 M743.4,366.5 l7,7 M743.4,373.5 l7,-7"/>
</g>
<g shape-rendering="crispEdges" stroke-width="1" fill="none">
<path d="M83.5,70.5 V398.5 H746.5 M83.5,70.5 H746.5" stroke="#262626"/>
<path d="M174.5,399.0 v-6 M174.5,70.0 v6 M289.5,399.0 v-6 M289.5,70.0 v6 M403.5,399.0 v-6 M403.5,70.0 v6 M518.5,399.0 v-6 M518.5,70.0 v6 M632.5,399.0 v-6 M632.5,70.0 v6 M83.0,129.5 h6 M83.0,189.5 h6 M83.0,249.5 h6 M83.0,369.5 h6" stroke="#262626"/>
<path d="M746.5,70.0 V399.0 M747.0,369.5 h-6 M747.0,309.5 h-6 M747.0,249.5 h-6 M747.0,189.5 h-6 M747.0,129.5 h-6 M747.0,70.5 h-6" stroke="#D70A53"/>
</g>
<g shape-rendering="crispEdges">
<rect x="465" y="93" width="40" height="4" fill="#000"/>
<path d="M481.1,95 l3.7,-3.7 l3.7,3.7 l-3.7,3.7 z" fill="#000" stroke="#000" stroke-width="3.4" stroke-linejoin="round"/>
<rect x="465" y="115" width="40" height="4" fill="#008080"/>
<rect x="481.8" y="114" width="6" height="6" fill="#008080" stroke="#008080" stroke-width="3.4" stroke-linejoin="round"/>
</g>
<text x="508.5" y="100.9" font-size="20" fill="#0000ff" text-anchor="start" font-weight="normal" textLength="212.6" lengthAdjust="spacingAndGlyphs">rmse grand pr = 4.583</text>
<text x="508.5" y="124.9" font-size="20" fill="#0000ff" text-anchor="start" font-weight="normal" textLength="222.6" lengthAdjust="spacingAndGlyphs">bias grand pr = -1.0597</text>
<text x="415.3" y="38" font-size="19.4" fill="#000" text-anchor="middle" font-weight="bold" textLength="350.7" lengthAdjust="spacingAndGlyphs">Tropics 10981 / 11046 = 99.412%</text>
<text x="414.6" y="61" font-size="19.4" fill="#000" text-anchor="middle" font-weight="bold" textLength="431.4" lengthAdjust="spacingAndGlyphs">AIRCRAFT_HORIZONTAL_WIND @ 313 hPa</text>
<text x="76.2" y="76.7" font-size="20" fill="#262626" text-anchor="end" font-weight="normal" textLength="10.7" lengthAdjust="spacingAndGlyphs">8</text>
<text x="76.2" y="136.7" font-size="20" fill="#262626" text-anchor="end" font-weight="normal" textLength="10.7" lengthAdjust="spacingAndGlyphs">6</text>
<text x="76.2" y="196.7" font-size="20" fill="#262626" text-anchor="end" font-weight="normal" textLength="10.7" lengthAdjust="spacingAndGlyphs">4</text>
<text x="76.2" y="256.7" font-size="20" fill="#262626" text-anchor="end" font-weight="normal" textLength="10.7" lengthAdjust="spacingAndGlyphs">2</text>
<text x="76.2" y="316.7" font-size="20" fill="#262626" text-anchor="end" font-weight="normal" textLength="10.7" lengthAdjust="spacingAndGlyphs">0</text>
<text x="76.2" y="376.7" font-size="20" fill="#262626" text-anchor="end" font-weight="normal" textLength="16.6" lengthAdjust="spacingAndGlyphs">-2</text>
<text x="771.2" y="376.7" font-size="20" fill="#D70A53" text-anchor="middle" font-weight="normal" textLength="10.4" lengthAdjust="spacingAndGlyphs">0</text>
<text x="771.2" y="316.7" font-size="20" fill="#D70A53" text-anchor="middle" font-weight="normal" textLength="21.8" lengthAdjust="spacingAndGlyphs">50</text>
<text x="771.2" y="256.7" font-size="20" fill="#D70A53" text-anchor="middle" font-weight="normal" textLength="34.3" lengthAdjust="spacingAndGlyphs">100</text>
<text x="771.2" y="196.7" font-size="20" fill="#D70A53" text-anchor="middle" font-weight="normal" textLength="34.3" lengthAdjust="spacingAndGlyphs">150</text>
<text x="771.2" y="136.7" font-size="20" fill="#D70A53" text-anchor="middle" font-weight="normal" textLength="34.3" lengthAdjust="spacingAndGlyphs">200</text>
<text x="771.2" y="76.7" font-size="20" fill="#D70A53" text-anchor="middle" font-weight="normal" textLength="34.3" lengthAdjust="spacingAndGlyphs">250</text>
<text x="174.5" y="423.6" font-size="20" fill="#262626" text-anchor="middle" font-weight="normal" textLength="52.6" lengthAdjust="spacingAndGlyphs">02/05</text>
<text x="289" y="423.6" font-size="20" fill="#262626" text-anchor="middle" font-weight="normal" textLength="52.6" lengthAdjust="spacingAndGlyphs">02/10</text>
<text x="403.5" y="423.6" font-size="20" fill="#262626" text-anchor="middle" font-weight="normal" textLength="52.6" lengthAdjust="spacingAndGlyphs">02/15</text>
<text x="518" y="423.6" font-size="20" fill="#262626" text-anchor="middle" font-weight="normal" textLength="52.6" lengthAdjust="spacingAndGlyphs">02/20</text>
<text x="632.5" y="423.6" font-size="20" fill="#262626" text-anchor="middle" font-weight="normal" textLength="52.6" lengthAdjust="spacingAndGlyphs">02/25</text>
<text x="747" y="423.6" font-size="20" fill="#262626" text-anchor="middle" font-weight="normal" textLength="52.6" lengthAdjust="spacingAndGlyphs">03/01</text>
<text x="415.1" y="448" font-size="20" fill="#262626" text-anchor="middle" font-weight="normal" textLength="253.8" lengthAdjust="spacingAndGlyphs">Feb.01,2016 00:00:00 start</text>
<text x="398" y="459.1" font-size="11.2" fill="#000" text-anchor="middle" font-weight="normal" textLength="472.5" lengthAdjust="spacingAndGlyphs">data file: /glade/work/thoar/git/DART_reanalysis/models/cam-fv/work/obs_diag_output.nc</text>
<text x="49.6" y="234.5" font-size="20" fill="#262626" text-anchor="middle" font-weight="normal" textLength="338" lengthAdjust="spacingAndGlyphs" transform="rotate(-90 49.6 234.5)">rmse and bias (model - observation)</text>
<text x="811" y="403.3" font-size="20" fill="#D70A53" text-anchor="start" font-weight="normal" textLength="197.6" lengthAdjust="spacingAndGlyphs" transform="rotate(-90 811 403.3)"># of obs: o=possible;</text>
<text x="811" y="185.6" font-size="20" fill="#D70A53" text-anchor="start" font-weight="normal" textLength="119.6" lengthAdjust="spacingAndGlyphs" transform="rotate(-90 811 185.6)">=assimilated</text>
<path d="M802.6,193.3 h7.4 M804.4,190.1 l3.8,6.4 M808.2,190.1 l-3.8,6.4" stroke="#D70A53" stroke-width="1.1" fill="none"/>
</svg></body></html>
